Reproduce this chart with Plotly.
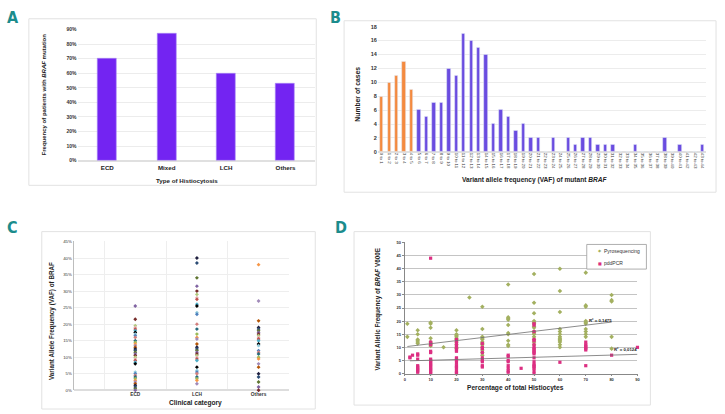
import plotly.graph_objects as go

W, H = 725, 414

# ---------------- Panel A data ----------------
hist_types = ["ECD", "Mixed", "LCH", "Others"]
braf_freq_pct = [70, 87, 60, 53]

# ---------------- Panel B data ----------------
vaf_bins = [f"{i} to {i+1}" for i in range(44)]
vaf_cases = [8, 10, 11, 13, 9, 6, 5, 7, 7, 12, 11, 17, 16, 15, 14, 4, 6, 5, 3, 4,
             2, 2, 0, 2, 0, 2, 1, 2, 2, 1, 1, 1, 0, 0, 1, 0, 0, 0, 2, 0, 1, 0, 0, 1]
n_low_bins = 5  # bins highlighted in orange

# ---------------- Panel C data ----------------
clin_categories = ["ECD", "LCH", "Others"]
vaf_ecd = [25.5, 21.5, 19.5, 19, 18.5, 18, 17.5, 17, 16.5, 16, 15, 14.5, 14, 13.5, 13,
           12.5, 12, 11.5, 11, 10.5, 10, 9.5, 9, 8.5, 8, 5.5, 5, 4.5, 4, 3.5, 3, 2.5,
           2, 1.5, 1, 0.5, 0]
vaf_lch = [40, 38.5, 34, 31.5, 30, 29, 28, 27.5, 26, 25.5, 23.5, 23, 20, 18.5, 17, 16,
           15.5, 14, 13, 12.5, 12, 11.5, 11, 10.5, 10, 9.5, 9, 7, 6, 5.5, 5, 4, 3.5, 3, 2]
vaf_others = [38, 27, 21, 19, 18.5, 18, 17.5, 17, 16.5, 16, 15.5, 15, 14, 13.5, 12,
              11.5, 11, 10, 9.5, 8, 7, 5, 4, 2.5, 1, 0]

# ---------------- Panel D data ----------------
pyro_x = ([1, 1] + [5] * 6 + [10] * 7 + [15] + [20] * 10 + [25] + [30] * 12 +
          [40] * 10 + [50] * 15 + [60] * 13 + [70] * 10 + [80] * 5)
pyro_y = ([19, 14] +
          [16.5, 15, 13, 12.5, 12, 11.5] +
          [19.5, 19, 17.5, 13.5, 12, 11, 10.5] +
          [10] +
          [16.5, 15, 14.5, 14, 13.5, 13, 12, 11, 10, 9.5] +
          [29] +
          [25.5, 17, 14, 13.5, 13, 12, 11.5, 11, 10, 9, 8, 7] +
          [34, 21.5, 21, 20.5, 18.5, 15.5, 15, 12.5, 11, 10.5] +
          [38, 27, 23, 20, 19.5, 19, 18, 17.5, 16, 15.5, 15, 14, 13, 12, 11] +
          [40, 31.5, 23.5, 17, 16, 15, 14, 13.5, 13, 12.5, 12, 11, 10] +
          [38.5, 26, 25.5, 20, 19.5, 19, 17, 16, 15, 14] +
          [30, 28, 27.5, 14, 9.5])
pdd_x = ([2, 2, 3] + [5] * 9 + [10] * 18 + [20] * 16 + [30] * 9 + [40] * 8 + [45] +
         [50] * 20 + [60] + [70] * 7 + [80] + [90])
pdd_y = ([6, 6.3, 7] +
         [7.5, 7, 5.5, 3, 2.5, 2, 1.5, 1, 0.5] +
         [44, 12, 11.5, 11, 8.5, 8, 5.5, 5, 4.5, 4, 3.5, 3, 2.5, 2, 1.5, 1, 0.5, 0] +
         [13, 12, 11, 10, 9, 8.5, 6, 5.5, 5, 4, 3, 2.5, 2, 1, 0.5, 0] +
         [11.5, 10, 9.5, 8, 6, 5, 4.5, 3, 2.5] +
         [7, 6.5, 5, 4.5, 3, 2, 1, 0.5] +
         [2] +
         [19, 18.5, 16, 13, 12.5, 11, 10, 9.5, 9, 8.5, 8, 7.5, 6, 4.5, 3.5, 3, 2.5, 2, 1, 0] +
         [4.3] +
         [12, 11, 10.5, 10, 9.5, 9, 3] +
         [7] + [10])
series_names = ["Pyrosequencing", "pddPCR"]
# linear trends (intercept, slope) and R² labels as printed on the chart
pyro_trend = (10.2, 0.118)
pdd_trend = (4.8, 0.028)
pyro_r2 = "R² = 0,1475"
pdd_r2 = "R² = 0,0124"

# ---------------- styling ----------------
FONT = "Liberation Sans, Arial, sans-serif"
LETTER_FONT = "Liberation Sans Narrow, DejaVu Sans Condensed, Arial Narrow, sans-serif"
TEAL = "#1b8c8c"
PURPLE_A = "#7324f2"
PURPLE_B = "#6a4ce0"
ORANGE_B = "#f48a3f"
PYRO_C = "#a3b060"
PDD_C = "#dc2f82"
PALETTE = ["#8064a2", "#9bbb59", "#c0504d", "#1f1f3f", "#4f81bd", "#772c2a", "#f79646",
           "#4bacc6", "#2c4d75", "#d37f7d", "#afc97a", "#a18ab9", "#000000", "#5f7530",
           "#276a7c", "#e6b9b8", "#b65708", "#93cddd"]


def px_x(p):
    return p / W


def px_y(p):
    return 1 - p / H


fig = go.Figure()

# Panel A
fig.add_trace(go.Bar(x=hist_types, y=braf_freq_pct, xaxis="x", yaxis="y",
                     marker=dict(color=PURPLE_A, line=dict(color="#a98af5", width=0.6)),
                     width=0.32, showlegend=False))

# Panel B
fig.add_trace(go.Bar(x=vaf_bins[:n_low_bins], y=vaf_cases[:n_low_bins], xaxis="x2", yaxis="y2",
                     marker=dict(color=ORANGE_B), width=0.45, showlegend=False))
fig.add_trace(go.Bar(x=vaf_bins[n_low_bins:], y=vaf_cases[n_low_bins:], xaxis="x2", yaxis="y2",
                     marker=dict(color=PURPLE_B), width=0.45, showlegend=False))

# Panel C
for ci, vals in enumerate([vaf_ecd, vaf_lch, vaf_others]):
    cols = [PALETTE[(k * 5 + ci * 3) % len(PALETTE)] for k in range(len(vals))]
    fig.add_trace(go.Scatter(x=[ci + 1] * len(vals), y=vals, mode="markers", xaxis="x3", yaxis="y3",
                             marker=dict(symbol="diamond", size=3, color=cols),
                             showlegend=False, cliponaxis=False))

# Panel D
fig.add_trace(go.Scatter(x=pyro_x, y=pyro_y, mode="markers", name=series_names[0],
                         xaxis="x4", yaxis="y4", showlegend=False,
                         marker=dict(symbol="diamond", size=3.5, color=PYRO_C), cliponaxis=False))
fig.add_trace(go.Scatter(x=pdd_x, y=pdd_y, mode="markers", name=series_names[1],
                         xaxis="x4", yaxis="y4", showlegend=False,
                         marker=dict(symbol="square", size=3.2, color=PDD_C), cliponaxis=False))
for (b0, b1), xs in [(pyro_trend, pyro_x), (pdd_trend, pdd_x)]:
    x0, x1 = min(xs), max(xs)
    fig.add_trace(go.Scatter(x=[x0, x1], y=[b0 + b1 * x0, b0 + b1 * x1], mode="lines",
                             xaxis="x4", yaxis="y4", line=dict(color="#6e6e6e", width=0.8),
                             showlegend=False, hoverinfo="skip"))

tick_small = dict(family=FONT, size=5, color="#333333", weight="bold")
cat_font = dict(family=FONT, size=6.2, color="#222222", weight="bold")

fig.update_layout(
    width=W, height=H, margin=dict(l=0, r=0, t=0, b=0),
    paper_bgcolor="white", plot_bgcolor="white", bargap=0, showlegend=False,
    font=dict(family=FONT),
    # Panel A
    xaxis=dict(domain=[px_x(77), px_x(316)], anchor="y", showgrid=False, showline=False,
               tickfont=cat_font, ticks="", ticklabelstandoff=2),
    yaxis=dict(domain=[px_y(160), px_y(27)], anchor="x", range=[0, 90], dtick=10,
               ticksuffix="%", tickfont=tick_small, showgrid=True, gridcolor="#ececec",
               gridwidth=0.8, zeroline=True, zerolinecolor="#e0e0e0", showline=False, ticks=""),
    # Panel B
    xaxis2=dict(domain=[px_x(379), px_x(709)], anchor="y2", type="category",
                categoryorder="array", categoryarray=vaf_bins, tickmode="array", tickvals=vaf_bins,
                tickangle=90, tickfont=dict(family=FONT, size=4.3, color="#333333"),
                showgrid=False, showline=False, ticks=""),
    yaxis2=dict(domain=[px_y(151), px_y(24)], anchor="x2", range=[0, 18], dtick=2,
                tickfont=dict(family=FONT, size=5.5, color="#333333", weight="bold"),
                showgrid=True, gridcolor="#ececec", gridwidth=0.8, zeroline=True,
                zerolinecolor="#e0e0e0", ticks=""),
    # Panel C
    xaxis3=dict(domain=[px_x(73), px_x(290)], anchor="y3", range=[0, 3.5], tickmode="array",
                tickvals=[1, 2, 3], ticktext=clin_categories, showgrid=False,
                tickfont=dict(family=FONT, size=4.8, color="#333333", weight="bold"), ticks="",
                minor=dict(tick0=0.5, dtick=1, showgrid=True, gridcolor="#eeeeee", gridwidth=0.6),
                zeroline=False, showline=False),
    yaxis3=dict(domain=[px_y(393), px_y(242)], anchor="x3", range=[0, 45], dtick=5,
                ticksuffix="%", tickfont=dict(family=FONT, size=4.3, color="#333333"),
                showgrid=True, gridcolor="#eeeeee", gridwidth=0.6, showline=True,
                linecolor="#bdbdbd", linewidth=0.8, zeroline=True, zerolinecolor="#dddddd",
                ticks=""),
    # Panel D
    xaxis4=dict(domain=[px_x(406), px_x(640)], anchor="y4", range=[0, 90], dtick=10,
                tickfont=dict(family=FONT, size=4, color="#333333", weight="bold"),
                showgrid=False, showline=True, linecolor="#888888", linewidth=0.8,
                ticks="outside", ticklen=2, tickcolor="#888888", zeroline=False),
    yaxis4=dict(domain=[px_y(376), px_y(243)], anchor="x4", range=[0, 50], dtick=5,
                tickfont=dict(family=FONT, size=4, color="#333333", weight="bold"),
                showgrid=True, gridcolor="#c4c4c4", gridwidth=0.8, showline=True,
                linecolor="#888888", linewidth=0.8, ticks="outside", ticklen=2,
                tickcolor="#888888", zeroline=False),
)

# Panel frames
for (x0, y0, x1, y1) in [(28, 16, 317, 185), (345, 18, 719, 192), (41, 232, 316, 412),
                         (355, 232, 653, 408)]:
    fig.add_shape(type="rect", xref="paper", yref="paper", x0=px_x(x0), x1=px_x(x1),
                  y0=px_y(y1), y1=px_y(y0), line=dict(color="#e2e2e2", width=1),
                  fillcolor="rgba(0,0,0,0)", layer="below")

# Legend box for panel D
fig.add_shape(type="rect", xref="paper", yref="paper", x0=px_x(589), x1=px_x(649),
              y0=px_y(270), y1=px_y(245), line=dict(color="#9a9a9a", width=0.8),
              fillcolor="white", layer="above")

annots = []
# panel letters
for letter, (lx, ly) in {"A": (12, 15), "B": (336, 15), "C": (12, 228), "D": (342, 228)}.items():
    annots.append(dict(text=f"<b>{letter}</b>", x=px_x(lx), y=px_y(ly), xref="paper", yref="paper",
                       xanchor="center", yanchor="middle", showarrow=False,
                       font=dict(family=LETTER_FONT, size=16, color=TEAL)))


def title(text, x, y, size=6.3, angle=0):
    annots.append(dict(text=f"<b>{text}</b>", x=px_x(x), y=px_y(y), xref="paper", yref="paper",
                       xanchor="center", yanchor="middle", showarrow=False, textangle=angle,
                       font=dict(family=FONT, size=size, color="#222222")))


title("Frequency of patients with <i>BRAF</i> mutation", 43, 93, 6, -90)
title("Type of Histiocytosis", 187, 180, 6.2)
title("Number of cases", 359, 93, 6.8, -90)
title("Variant allele frequency (VAF) of mutant <i>BRAF</i>", 537, 180, 6.6)
title("Variant Allele Frequency (VAF) of BRAF", 52, 323, 6.3, -90)
title("Clinical category", 196, 406, 6.6)
title("Variant Allelic Frequency of <i>BRAF</i> V600E", 380, 311, 6.3, -90)
title("Percentage of total Histiocytes", 517, 391, 6.6)

# legend entries (glyph + label)
for (name, glyph, col, ly) in [(series_names[0], "◆", PYRO_C, 251.5), (series_names[1], "■", PDD_C, 264)]:
    annots.append(dict(text=glyph, x=px_x(602), y=px_y(ly), xref="paper", yref="paper",
                       xanchor="center", yanchor="middle", showarrow=False,
                       font=dict(family="DejaVu Sans, sans-serif", size=4, color=col)))
    annots.append(dict(text=name, x=px_x(604.5), y=px_y(ly), xref="paper", yref="paper",
                       xanchor="left", yanchor="middle", showarrow=False,
                       font=dict(family=FONT, size=5, color="#333333")))

# R² labels on trendlines
annots.append(dict(text=f"<b>{pyro_r2}</b>", x=70.5, y=20.3, xref="x4", yref="y4", xanchor="left",
                   yanchor="middle", showarrow=False, font=dict(family=FONT, size=4.3, color="#222222")))
annots.append(dict(text=f"<b>{pdd_r2}</b>", x=80, y=9.3, xref="x4", yref="y4", xanchor="left",
                   yanchor="middle", showarrow=False, font=dict(family=FONT, size=4.3, color="#222222")))

fig.update_layout(annotations=annots)
fig.write_html("out.html", config={"displayModeBar": False},
               post_script="document.body.style.margin='0px';")
